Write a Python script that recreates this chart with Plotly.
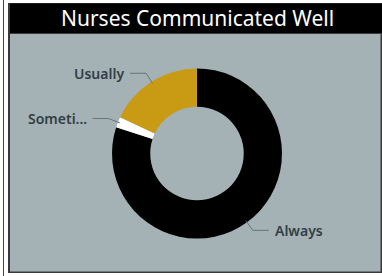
import math
import plotly.graph_objects as go

# ---- data ----
categories = ["Always", "Sometimes", "Usually"]
display_labels = ["Always", "Someti...", "Usually"]
values = [80, 2, 18]
slice_colors = ["#000000", "#FFFFFF", "#C99A13"]
title_text = "Nurses Communicated Well"

W, H = 382, 276
cx, cy, R = 197.0, 153.5, 85.0
HOLE = 0.55
PANEL = "#A4B2B6"
LEADER = "#65757B"
LABEL_COLOR = "#333E44"
FONT = "Segoe UI, Noto Sans, sans-serif"


def px(x):
    return x / W


def py(y):
    return 1 - y / H


fig = go.Figure()
fig.add_trace(go.Pie(
    labels=categories,
    values=values,
    marker=dict(colors=slice_colors, line=dict(width=0)),
    hole=HOLE,
    sort=False,
    direction="clockwise",
    rotation=0,
    textinfo="none",
    hoverinfo="label+value",
    showlegend=False,
    domain=dict(x=[px(cx - R), px(cx + R)], y=[py(cy + R), py(cy - R)]),
))

shapes = [
    dict(type="line", xref="paper", yref="paper", x0=px(3.5), x1=px(3.5), y0=py(0), y1=py(H),
         line=dict(color="#444", width=1)),
    dict(type="rect", xref="paper", yref="paper", x0=px(8), x1=px(W), y0=py(273), y1=py(3),
         fillcolor="#3a3a3a", line=dict(width=0), layer="below"),
    dict(type="rect", xref="paper", yref="paper", x0=px(10), x1=px(W), y0=py(33), y1=py(3.5),
         fillcolor="#000000", line=dict(width=0), layer="below"),
    dict(type="rect", xref="paper", yref="paper", x0=px(10), x1=px(380.5), y0=py(271.5), y1=py(34),
         fillcolor=PANEL, line=dict(width=0), layer="below"),
]

annotations = [
    dict(text=title_text, x=px(197.5), y=py(18.5), xref="paper", yref="paper",
         xanchor="center", yanchor="middle", showarrow=False,
         font=dict(family=FONT, size=21, color="#FFFFFF")),
]

# leader lines and labels computed from the slice angles (clockwise from 12 o'clock)
total = sum(values)
cum = 0.0
for lab, v in zip(display_labels, values):
    mid = (cum + v / 2) / total * 2 * math.pi
    cum += v
    dx, dy = math.sin(mid), -math.cos(mid)
    x0, y0 = cx + (R - 2) * dx, cy + (R - 2) * dy
    x1, y1 = cx + (R + 10) * dx, cy + (R + 10) * dy
    side = 1 if dx > 0 else -1
    x2 = x1 + side * 16
    shapes.append(dict(type="path", xref="paper", yref="paper",
                       path=f"M {px(x0)},{py(y0)} L {px(x1)},{py(y1)} L {px(x2)},{py(y1)}",
                       line=dict(color=LEADER, width=1)))
    annotations.append(dict(text=lab, x=px(x2 + side * 4), y=py(y1), xref="paper", yref="paper",
                            xanchor="left" if side > 0 else "right", yanchor="middle",
                            showarrow=False,
                            font=dict(family=FONT, size=14, color=LABEL_COLOR, weight=600)))

fig.update_layout(
    width=W, height=H,
    margin=dict(l=0, r=0, t=0, b=0),
    paper_bgcolor="#FFFFFF",
    plot_bgcolor="#FFFFFF",
    shapes=shapes,
    annotations=annotations,
)

fig.write_html("out.html", post_script="document.body.style.margin='0';",
               config={"displayModeBar": False})
